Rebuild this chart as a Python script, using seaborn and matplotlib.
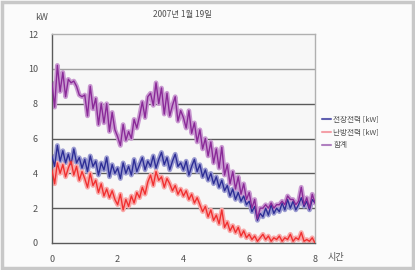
import numpy as np
import pandas as pd
import matplotlib
matplotlib.use("Agg")
import matplotlib.pyplot as plt
import seaborn as sns

# 5-minute samples over 8 hours (97 points)
hours = [i / 12 for i in range(97)]

blue_kw = [
    5.0, 4.4, 5.6, 4.7, 5.3, 4.6, 5.1, 4.5, 5.4, 4.6, 4.9, 4.3,
    4.8, 4.1, 5.0, 4.4, 4.7, 3.9, 4.6, 4.2, 4.9, 3.8, 4.5, 4.0,
    4.3, 3.7, 4.6, 4.0, 4.4, 3.9, 4.8, 4.1, 4.5, 4.9, 4.2, 4.7,
    4.4, 5.0, 4.3, 4.8, 5.2, 4.5, 4.9, 4.2, 4.7, 5.1, 4.4, 4.6,
    4.2, 4.7, 3.9, 4.4, 4.8, 4.1, 4.5, 3.8, 4.2, 3.6, 4.0, 3.4,
    3.8, 3.2, 3.6, 3.0, 3.3, 2.7, 3.1, 2.5, 2.9, 2.4, 2.7, 2.2,
    2.4, 1.8, 2.1, 1.3, 1.7, 1.5, 2.0, 1.6, 2.2, 1.7, 2.0, 1.8,
    2.3, 1.9, 2.5, 2.0, 2.4, 1.9, 2.2, 2.6, 2.1, 2.4, 1.9, 2.5,
    2.3,
]
red_kw = [
    4.2, 3.4, 4.6, 4.0, 4.5, 3.8, 4.3, 4.7, 3.9, 4.4, 3.6, 4.1,
    3.7, 3.2, 4.0, 3.3, 3.6, 2.9, 3.4, 2.7, 3.1, 2.6, 3.0, 2.5,
    2.2, 2.8, 1.9, 2.5, 2.1, 2.7, 2.3, 2.9, 2.6, 3.2, 2.8, 3.5,
    3.9, 3.3, 4.1, 3.6, 3.8, 3.2, 3.7, 3.4, 3.0, 3.3, 2.8, 3.1,
    2.7, 3.0, 2.5, 2.8, 2.3, 2.6, 2.2, 1.8, 2.1, 1.5, 1.9, 1.3,
    1.6, 1.1, 1.9, 0.9, 1.2, 0.7, 1.0, 0.6, 0.9, 0.4, 0.7, 0.3,
    0.5, 0.2, 0.4, 0.1, 0.3, 0.5, 0.2, 0.4, 0.1, 0.3, 0.2, 0.4,
    0.1, 0.3, 0.2, 0.5, 0.1, 0.3, 0.2, 0.6, 0.1, 0.2, 0.1, 0.3,
    0.0,
]
total_kw = [
    9.2, 7.8, 10.2, 8.7, 9.8, 8.4, 9.4, 9.2, 9.3, 9.0, 8.5, 8.4,
    8.5, 7.3, 9.0, 7.7, 8.3, 6.8, 8.0, 6.9, 8.0, 6.4, 7.5, 6.5,
    6.1, 5.6, 6.8, 5.9, 6.4, 6.0, 7.1, 6.6, 7.3, 8.1, 7.2, 8.4,
    8.6, 7.9, 9.2, 8.0, 8.9, 7.4, 8.6, 7.3, 7.9, 8.4, 7.0, 7.6,
    7.2, 6.6, 7.6, 6.3, 6.9, 5.8, 6.5, 5.4, 6.0, 5.0, 5.8, 4.6,
    5.4, 4.3, 5.5, 3.9, 4.5, 3.4, 4.1, 3.1, 3.8, 2.8, 3.4, 2.5,
    2.9, 2.0, 2.5, 1.4, 2.0, 2.0, 2.2, 2.0, 2.3, 2.0, 2.2, 2.2,
    2.4, 2.2, 2.7, 2.5, 2.5, 2.2, 2.4, 3.2, 2.2, 2.6, 2.0, 2.8,
    2.3,
]

series_names = ["전장전력 [kW]", "난방전력 [kW]", "합계"]
series_colors = ["#2e2e96", "#f03030", "#8a2a98"]
halo_colors = ["#9a9ad0", "#f8a8a8", "#c898d0"]
legend_colors = ["#6060b0", "#f4a0a8", "#b080c0"]

x_ticks = [0, 1, 2, 3, 4, 5, 6, 7, 8]
x_labels = ["0", "", "2", "", "4", "", "6", "", "8"]
y_ticks = [0, 2, 4, 6, 8, 10, 12]

df = pd.DataFrame({
    "hour": hours * 3,
    "kw": blue_kw + red_kw + total_kw,
    "series": sum([[n] * len(hours) for n in series_names], []),
})

sns.set_theme(style="white")
plt.rcParams["font.family"] = ["Noto Sans CJK KR", "DejaVu Sans"]

fig = plt.figure(figsize=(4.15, 2.7), dpi=100, facecolor="#fbfbfb")
ax = fig.add_axes([0.125, 0.10, 0.634, 0.774])
ax.set_facecolor("#f7f7f7")

# light halo first, then the sharp line
draw_order = [2, 0, 1]
for i in draw_order:
    sub = df[df["series"] == series_names[i]]
    sns.lineplot(data=sub, x="hour", y="kw", ax=ax, color=halo_colors[i],
                 linewidth=3.4, legend=False, zorder=2 + i * 0.1)
for i in draw_order:
    sub = df[df["series"] == series_names[i]]
    sns.lineplot(data=sub, x="hour", y="kw", ax=ax, color=series_colors[i],
                 linewidth=1.0, legend=False, zorder=3 + i * 0.1)

ax.set_xlim(0, 8)
ax.set_ylim(0, 12)
ax.set_xticks(x_ticks)
ax.set_xticklabels(x_labels)
ax.set_yticks(y_ticks)
ax.tick_params(axis="x", direction="in", length=3, color="#606060",
               labelsize=6.5, labelcolor="#505050", pad=9)
ax.tick_params(axis="y", length=0, labelsize=6.5, labelcolor="#505050", pad=10)
ax.set_xlabel("")
ax.set_ylabel("")
for y in [2, 4, 6, 8]:
    ax.axhline(y, color="#5a5a5a", linewidth=1.0, zorder=1)
ax.axhline(10, color="#a0a0a0", linewidth=1.0, zorder=1)

for side in ["left", "bottom"]:
    ax.spines[side].set_color("#5a5a5a")
    ax.spines[side].set_linewidth(1.0)
for side in ["top", "right"]:
    ax.spines[side].set_color("#b0b0b0")
    ax.spines[side].set_linewidth(1.0)

handles = [plt.Line2D([], [], color=c, linewidth=1.5) for c in legend_colors]
leg = ax.legend(handles, series_names, loc="upper left",
                bbox_to_anchor=(1.0, 0.64), frameon=False, fontsize=5.5,
                handlelength=1.2, handletextpad=0.3, labelspacing=0.6)
for t in leg.get_texts():
    t.set_color("#505050")

fig.text(0.44, 0.945, "2007년 1월 19일", fontsize=6, color="#505050",
         ha="center", va="center")
fig.text(0.085, 0.935, "kW", fontsize=6.5, color="#505050", ha="left", va="center")
fig.text(0.81, 0.045, "시간", fontsize=6.5, color="#505050", ha="center", va="center")

# outer frame
fig.patches.append(plt.Rectangle((0.004, 0.006), 0.992, 0.988, transform=fig.transFigure,
                                 fill=False, edgecolor="#c8c8c8", linewidth=2.5))

fig.savefig("out.png", dpi=100, facecolor=fig.get_facecolor())
